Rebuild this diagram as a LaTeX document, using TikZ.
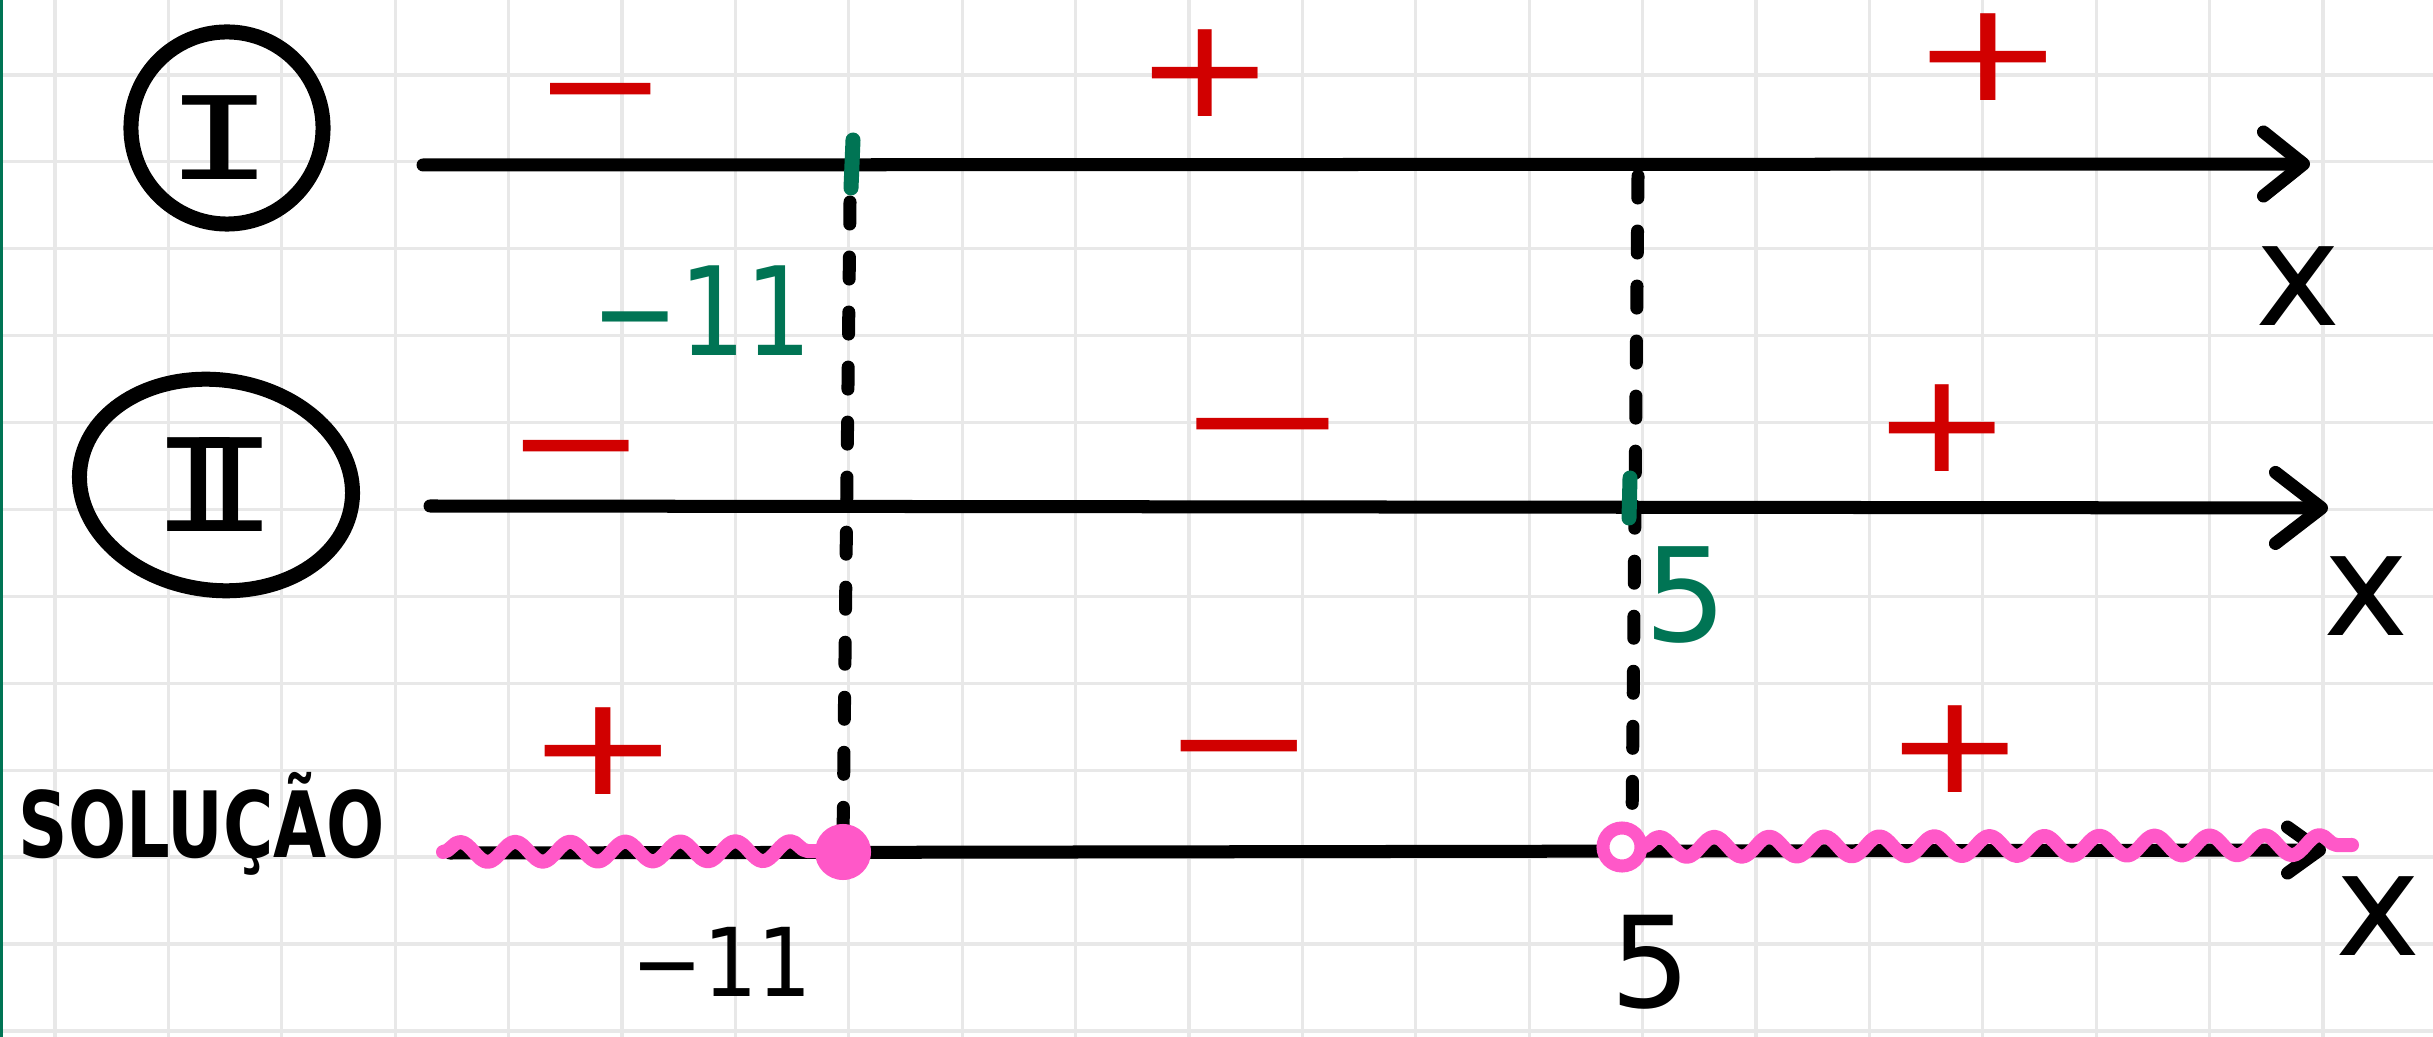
\documentclass[tikz,border=0pt]{standalone}
\usepackage{fontspec}
\setmainfont{DejaVu Sans}
\newfontfamily\monofam{DejaVu Sans Mono}
\usetikzlibrary{arrows.meta,decorations.pathmorphing,shapes.geometric}
\definecolor{signred}{RGB}{209,0,0}
\definecolor{tealmark}{RGB}{0,116,84}
\definecolor{pinkw}{RGB}{255,88,200}
\definecolor{gridc}{RGB}{232,232,232}
\begin{document}
\begin{tikzpicture}[x=0.01cm,y=-0.01cm,
  gridline/.style={draw=gridc, line width=0.032cm},
  axisline/.style={line width=0.13cm, line cap=round, line join=round},
  tickmark/.style={draw=tealmark, line width=0.15cm, line cap=round},
  dashline/.style={line width=0.13cm, line cap=round, dash pattern=on 0.22cm off 0.33cm},
  wave/.style={draw=pinkw, line width=0.14cm, line cap=round, line join=round,
    decorate, decoration={snake, segment length=0.55cm, amplitude=0.10cm}},
  sign/.style={text=signred, inner sep=0pt, font=\fontsize{48pt}{48pt}\selectfont,
    text height=25.3pt, text depth=0pt},
  numlabel/.style={inner sep=0pt},
  xlabel/.style={inner sep=0pt, font=\fontsize{41pt}{41pt}\selectfont},
  ringline/.style={draw, line width=0.15cm, inner sep=0pt}
]
\useasboundingbox (0,0) rectangle (2433,1037);
\fill[white] (0,0) rectangle (2433,1037);
% grid
\foreach \k in {0,...,20} \draw[gridline] ({55+113.4*\k},0) -- ({55+113.4*\k},1037);
\foreach \k in {0,...,11} \draw[gridline] (0,{75+86.9*\k}) -- (2433,{75+86.9*\k});
\draw[draw=tealmark, line width=0.03cm] (1.5,0) -- (1.5,1037);

% row labels
\node[ringline, circle, minimum size=1.92cm] (cI) at (227,128) {};
\node[inner sep=0pt, font=\monofam\fontsize{32.7pt}{32.7pt}\selectfont] (tI) at (220,138) {\scalebox{1.6}[1]{I}};
\node[ringline, ellipse, minimum width=2.74cm, minimum height=2.1cm, rotate=-8] (eII) at (216,485) {};
\node[inner sep=0pt, font=\monofam\fontsize{36.6pt}{36.6pt}\selectfont] (tII) at (215,485) {\scalebox{1.2}[1]{I\kern-0.4em I}};
\node[anchor=base west, inner sep=0pt, font=\bfseries\fontsize{26pt}{26pt}\selectfont] (sol) at (18,857) {\scalebox{0.75}[1]{SOLUÇÃO}};

% axes
\coordinate (IA) at (423,165);  \coordinate (IB) at (2310,164);
\coordinate (IIA) at (430,506); \coordinate (IIB) at (2328,508);
\coordinate (SA) at (450,853);  \coordinate (SB) at (2326,850);
\draw[axisline, -{Straight Barb[length=0.40cm,width=0.64cm,round]}] (IA) -- (IB);
\draw[axisline, -{Straight Barb[length=0.46cm,width=0.71cm,round]}] (IIA) -- (IIB);
\draw[axisline, -{Straight Barb[length=0.32cm,width=0.46cm,round]}] (SA) -- (SB);

% x labels
\node[xlabel] (xI) at (2298,286) {x};
\node[xlabel] (xII) at (2366,596) {x};
\node[xlabel] (xIII) at (2378,916) {x};

% dashed guide lines
\coordinate (d1a) at (850,202); \coordinate (d1b) at (843,840);
\coordinate (d2a) at (1638,176); \coordinate (d2b) at (1632,826);
\draw[dashline] (d1a) -- (d1b);
\draw[dashline] (d2a) -- (d2b);

% green ticks and roots
\coordinate (t1a) at (853,140); \coordinate (t1b) at (851,188);
\coordinate (t2a) at (1630,478); \coordinate (t2b) at (1629,518);
\draw[tickmark] (t1a) -- (t1b);
\draw[tickmark] (t2a) -- (t2b);
\node[numlabel, text=tealmark, font=\fontsize{35pt}{35pt}\selectfont] (r1) at (702,311) {\scalebox{0.85}[1]{−11}};
\node[numlabel, text=tealmark, font=\fontsize{37pt}{37pt}\selectfont] (r2) at (1686,595) {5};

% solution waves and points
\coordinate (w1a) at (443,852); \coordinate (w1b) at (828,851);
\coordinate (w2a) at (1642,847); \coordinate (w2b) at (2352,845);
\draw[wave] (w1a) -- (w1b);
\draw[wave] (w2a) -- (w2b);
\node[circle, fill=pinkw, minimum size=0.56cm, inner sep=0pt] (pA) at (843,852) {};
\node[circle, draw=pinkw, fill=white, line width=0.13cm, minimum size=0.38cm, inner sep=0pt] (pB) at (1622,847) {};
\node[numlabel, font=\fontsize{27pt}{27pt}\selectfont] (s1) at (722,962) {\scalebox{0.9}[1]{−11}};
\node[numlabel, font=\fontsize{36pt}{36pt}\selectfont] (s2) at (1651,962) {5};

% signs row I
\node[sign] (aI1) at (601,88) {\scalebox{0.95}[0.82]{−}};
\node[sign] (aI2) at (1205,72) {\scalebox{1}[0.82]{+}};
\node[sign] (aI3) at (1988,56) {\scalebox{1.1}[0.82]{+}};
% signs row II
\node[sign] (aII1) at (576,445) {\scalebox{1}[0.82]{−}};
\node[sign] (aII2) at (1263,423) {\scalebox{1.25}[0.82]{−}};
\node[sign] (aII3) at (1942,427) {\scalebox{1}[0.82]{+}};
% signs solution
\node[sign] (aS1) at (603,750) {\scalebox{1.1}[0.82]{+}};
\node[sign] (aS2) at (1239,745) {\scalebox{1.1}[0.82]{−}};
\node[sign] (aS3) at (1955,748) {\scalebox{1}[0.82]{+}};
\end{tikzpicture}
\end{document}
